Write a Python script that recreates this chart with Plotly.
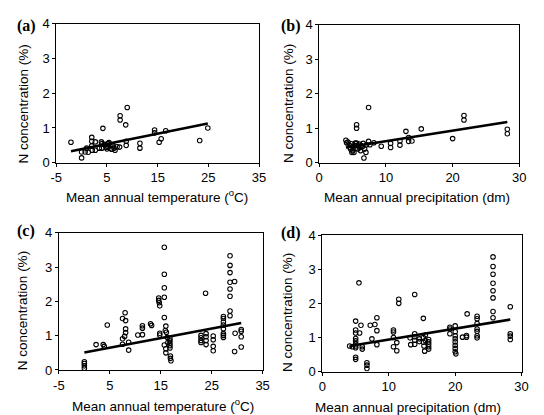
import plotly.graph_objects as go

# ---------------- data ----------------
# (a) N concentration vs mean annual temperature
a_temp = [-2.1, 0.0, 0.7, 0.0, 1.0, 1.3, 2.0, 2.0, 2.0, 2.1, 2.7, 2.7, 3.5, 3.9, 4.0, 4.0,
          4.2, 4.5, 4.8, 5.0, 5.2, 5.2, 5.4, 5.6, 5.8, 6.0, 6.0, 6.2, 6.4, 6.6, 7.0, 7.5,
          7.6, 7.6, 8.7, 8.8, 8.8, 9.0, 11.5, 11.5, 14.4, 14.4, 15.3, 15.7, 16.6, 23.3, 24.9]
a_n = [0.59, 0.31, 0.31, 0.14, 0.42, 0.30, 0.73, 0.62, 0.48, 0.36, 0.60, 0.36, 0.42, 0.60, 0.55, 0.42,
       0.99, 0.53, 0.45, 0.40, 0.55, 0.45, 0.58, 0.50, 0.40, 0.49, 0.39, 0.50, 0.42, 0.36, 0.46, 0.45,
       1.35, 1.23, 1.09, 0.62, 0.50, 1.59, 0.56, 0.42, 0.94, 0.86, 0.59, 0.69, 0.92, 0.64, 1.00]
a_fit = (0.395, 0.0295)  # intercept, slope

# (b) N concentration vs mean annual precipitation
b_precip = [4.0, 4.1, 4.3, 4.5, 4.6, 4.7, 4.8, 4.9, 5.0, 5.0, 5.2, 5.3, 5.4, 5.5, 5.6, 5.6,
            5.6, 5.7, 5.8, 6.0, 6.1, 6.2, 6.3, 6.5, 6.6, 6.7, 6.8, 7.0, 7.1, 7.4, 7.4, 7.6,
            8.2, 9.3, 10.7, 10.7, 12.1, 12.1, 13.0, 13.4, 13.4, 13.9, 15.3, 20.0, 21.7, 21.7,
            28.2, 28.2]
b_n = [0.65, 0.58, 0.60, 0.51, 0.45, 0.40, 0.55, 0.30, 0.47, 0.35, 0.30, 0.50, 0.57, 0.42, 1.10, 1.00,
       0.57, 0.50, 0.40, 0.54, 0.44, 0.35, 0.50, 0.47, 0.56, 0.14, 0.40, 0.30, 0.52, 1.60, 0.62, 0.52,
       0.58, 0.48, 0.56, 0.44, 0.63, 0.51, 0.91, 0.73, 0.62, 0.63, 0.98, 0.70, 1.37, 1.24,
       0.97, 0.84]
b_fit = (0.318, 0.0305)

# (c) N concentration vs mean annual temperature
c_temp = [0.0, 0.0, 0.0, 0.0,
          2.3, 3.7, 3.9, 4.5,
          7.5, 8.0, 8.1, 8.1, 8.1, 7.9, 7.5, 7.5, 8.7, 8.7,
          10.5, 11.4, 11.4, 11.4, 13.0, 13.2,
          14.6, 14.6, 14.7, 14.8, 14.8, 14.8,
          15.7, 15.7, 15.7, 15.7, 15.7, 15.7, 15.9,
          16.0, 16.1, 16.0, 16.0, 16.3, 16.4,
          16.8, 16.8, 16.8, 16.8, 16.8, 16.9, 16.9, 17.0,
          22.9, 22.9, 22.9, 22.9, 23.8,
          23.9, 23.9, 23.9, 23.9,
          25.3, 25.3, 25.3, 25.3,
          27.3, 27.3, 27.3, 27.3, 27.3, 27.3, 27.3, 27.3,
          28.6, 28.6, 28.6, 28.6, 28.6, 28.6, 28.6, 28.6,
          29.5, 29.6, 29.5,
          30.8, 30.8, 30.8, 30.8]
c_n = [0.24, 0.19, 0.12, 0.05,
       0.74, 0.74, 0.69, 1.31,
       1.50, 1.67, 1.44, 1.20, 1.09, 0.98, 0.91, 0.75, 0.81, 0.58,
       1.02, 1.29, 1.22, 1.03, 1.35, 1.30,
       2.10, 2.03, 1.96, 1.87, 1.07, 1.02,
       3.58, 2.79, 2.40, 2.12, 1.53, 0.73, 1.15,
       1.28, 1.10, 0.62, 0.50, 0.95, 0.80,
       0.92, 0.85, 0.78, 0.71, 0.64, 0.41, 0.34, 0.27,
       1.01, 0.94, 0.86, 0.80, 2.24,
       1.06, 0.97, 0.86, 0.74,
       0.99, 0.88, 0.69, 0.56,
       1.56, 1.50, 1.40, 1.31, 1.20, 1.06, 1.01, 0.95,
       3.33, 3.05, 2.84, 2.56, 2.36, 2.15, 1.72, 1.58,
       2.58, 1.07, 0.54,
       1.18, 1.13, 0.97, 0.67]
c_fit = (0.51, 0.028)

# (d) N concentration vs mean annual precipitation
d_precip = [4.1, 4.5,
            5.0, 5.0, 5.0, 5.0, 5.0, 5.0, 5.0, 5.0, 5.0, 5.0,
            5.5, 5.6, 5.8, 6.0, 6.0,
            6.7, 6.7, 6.7,
            7.2, 7.45, 7.9, 8.2, 8.2, 8.2,
            10.7, 10.7, 10.7, 10.7, 11.2, 11.2, 11.5, 11.5,
            13.2, 13.3, 13.9, 13.9, 13.9, 13.9, 13.9, 14.6, 14.6,
            15.2, 15.2, 15.2, 15.3, 15.4, 15.5, 15.5,
            16.0, 16.0, 16.0, 16.0, 16.0,
            19.2, 19.2, 19.2,
            20.0, 20.0, 20.0, 20.0, 20.0, 20.0, 20.0, 20.0, 20.1,
            21.1, 21.7, 21.7, 21.8,
            23.3, 23.3, 23.3, 23.3, 23.3, 23.3, 23.3,
            25.7, 25.7, 25.7, 25.7, 25.7, 25.7, 25.7, 25.7,
            28.3, 28.3, 28.3, 28.3]
d_n = [0.75, 0.73,
       1.48, 1.22, 1.13, 0.97, 0.90, 0.82, 0.75, 0.70, 0.42, 0.36,
       2.60, 1.13, 1.36, 0.73, 0.66,
       0.26, 0.19, 0.09,
       1.36, 0.96, 1.38, 1.20, 1.58, 0.79,
       1.22, 1.16, 1.00, 0.73, 0.85, 0.61, 2.12, 2.00,
       0.99, 0.79, 2.26, 1.11, 1.02, 0.92, 0.80, 0.96, 0.88,
       1.56, 1.00, 0.86, 0.75, 0.60, 1.07, 0.91,
       0.94, 0.87, 0.80, 0.73, 0.66,
       1.30, 1.25, 1.11,
       1.34, 1.17, 1.05, 0.96, 0.87, 0.77, 0.68, 0.58, 0.52,
       1.01, 1.06, 1.01, 1.69,
       1.62, 1.55, 1.41, 1.25, 1.18, 1.05, 0.99,
       3.36, 3.08, 2.85, 2.59, 2.37, 2.16, 1.76, 1.58,
       1.90, 1.11, 1.04, 0.94]
d_fit = (0.62, 0.032)

panel_labels = ["(a)", "(b)", "(c)", "(d)"]
y_title = "N concentration (%)"
x_titles = ["Mean annual temperature (<sup>o</sup>C)", "Mean annual precipitation (dm)",
            "Mean annual temperature (<sup>o</sup>C)", "Mean annual precipitation (dm)"]
temp_ticks = [-5, 5, 15, 25, 35]
precip_ticks = [0, 10, 20, 30]
n_ticks = [0, 1, 2, 3, 4]

# ---------------- layout geometry (pixels) ----------------
W, H = 544, 415
# x0, x1, y_top, y_bottom in pixels
boxes = [(43.3, 251.0, 9.0, 153.3),
         (312.7, 517.7, 10.0, 153.3),
         (46.0, 254.7, 226.0, 368.3),
         (316.0, 520.0, 228.3, 370.0)]

FONT = "Liberation Sans, Arial, sans-serif"

fig = go.Figure()

panels = [(a_temp, a_n, a_fit, temp_ticks),
          (b_precip, b_n, b_fit, precip_ticks),
          (c_temp, c_n, c_fit, temp_ticks),
          (d_precip, d_n, d_fit, precip_ticks)]

for i, (xs, ys, fit, xt) in enumerate(panels):
    k = "" if i == 0 else str(i + 1)
    xa, ya = "x" + k, "y" + k
    fig.add_trace(go.Scatter(
        x=xs, y=ys, mode="markers", xaxis=xa, yaxis=ya,
        marker=dict(symbol="circle-open", size=4.5, color="black", line=dict(width=1.1, color="black")),
        showlegend=False, hoverinfo="skip"))
    lx = [min(xs), max(xs)]
    ly = [fit[0] + fit[1] * v for v in lx]
    fig.add_trace(go.Scatter(
        x=lx, y=ly, mode="lines", xaxis=xa, yaxis=ya,
        line=dict(color="black", width=2.6), showlegend=False, hoverinfo="skip"))

    x0, x1, yt, yb = boxes[i]
    axis_common = dict(showline=True, linecolor="black", linewidth=1, mirror=True,
                       ticks="outside", ticklen=3, tickwidth=1, tickcolor="black",
                       showgrid=False, zeroline=False,
                       tickfont=dict(family=FONT, size=13, color="black"))
    fig.layout["xaxis" + k] = dict(axis_common, domain=[x0 / W, x1 / W],
                                   anchor=ya, range=[xt[0], xt[-1]],
                                   tickmode="array", tickvals=xt, ticktext=[str(v) for v in xt])
    fig.layout["yaxis" + k] = dict(axis_common, domain=[1 - yb / H, 1 - yt / H],
                                   anchor=xa, range=[n_ticks[0], n_ticks[-1]],
                                   tickmode="array", tickvals=n_ticks, ticktext=[str(v) for v in n_ticks])

# ---------------- annotations ----------------
ytitle_pos = [(10, 92), (281, 92), (9.5, 307), (281, 309)]
xtitle_pos = [(147, 188), (413, 189), (152.5, 405), (404, 407)]
label_pos = [(13, 11), (283.5, 11), (12, 224.5), (283.5, 226)]

ann = []
for i in range(4):
    px, py = ytitle_pos[i]
    ann.append(dict(x=px / W, y=1 - py / H, xref="paper", yref="paper", text=y_title,
                    showarrow=False, textangle=-90, xanchor="center", yanchor="middle",
                    font=dict(family=FONT, size=13.5, color="black")))
    px, py = xtitle_pos[i]
    ann.append(dict(x=px / W, y=1 - py / H, xref="paper", yref="paper", text=x_titles[i],
                    showarrow=False, xanchor="center", yanchor="middle",
                    font=dict(family=FONT, size=13.5, color="black")))
    px, py = label_pos[i]
    ann.append(dict(x=px / W, y=1 - py / H, xref="paper", yref="paper",
                    text="<b>" + panel_labels[i] + "</b>",
                    showarrow=False, xanchor="center", yanchor="middle",
                    font=dict(family="Liberation Serif, Times New Roman, serif", size=16, color="black")))

fig.update_layout(width=W, height=H, margin=dict(l=0, r=0, t=0, b=0),
                  paper_bgcolor="white", plot_bgcolor="white", annotations=ann)

fig.write_html("out.html")
